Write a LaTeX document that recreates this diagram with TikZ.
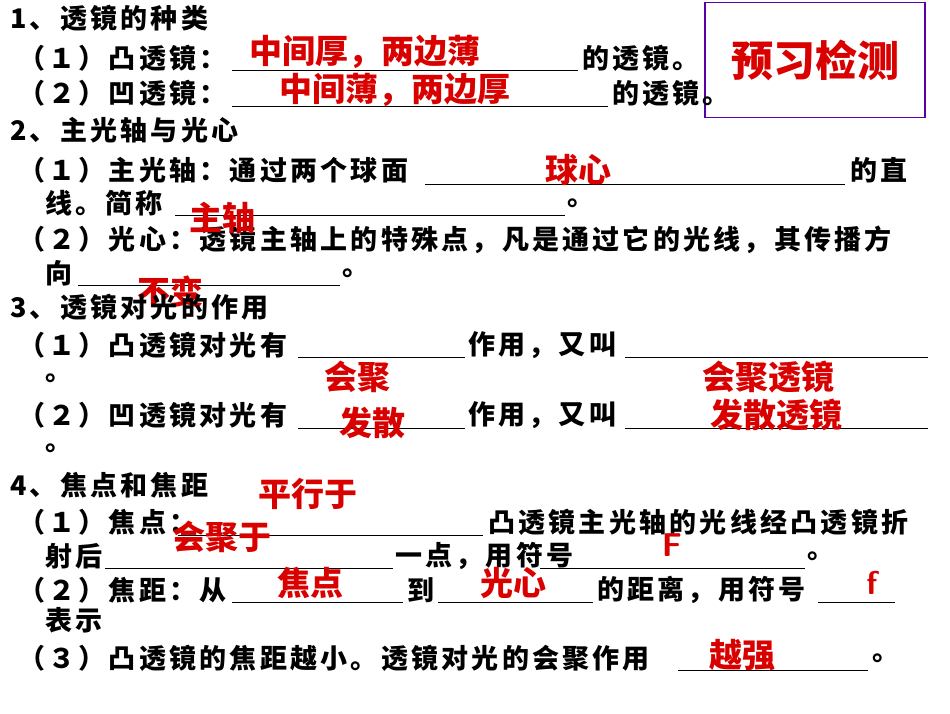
\documentclass[tikz,border=0pt]{standalone}
\usepackage{fontspec}
\newfontfamily\cjk{Noto Sans CJK SC}
\newfontfamily\cjkwide[LetterSpace=12]{Noto Sans CJK SC}
\tikzset{
  txt/.style = {anchor=west, inner sep=0pt, font=\cjkwide\bfseries\fontsize{27}{30}\selectfont},
  ans/.style = {inner sep=0pt, text=red!85!black, font=\cjk\bfseries\fontsize{33}{36}\selectfont},
  blank/.style = {line width=0.8pt, draw=black}
}
\begin{document}
\begin{tikzpicture}[x=1pt, y=-1pt]
    \useasboundingbox (0,0) rectangle (950,713);
    % heading box
    \node(box)[draw=violet!70!blue, line width=1.5pt, minimum width=220pt, minimum height=115pt] at (815,60) {};
    \node(title)[ans, font=\cjk\bfseries\fontsize{42}{44}\selectfont] at (box) {预习检测};
    % part 1
    \node(h1)[txt] at (10,18) {1、透镜的种类};
    \node(l1a)[txt] at (18,58) {（１）凸透镜：};
    \draw[blank] (232,70) -- (578,70);
    \node(l1b)[txt] at (582,58) {的透镜。};
    \node(l2a)[txt] at (18,93) {（２）凹透镜：};
    \draw[blank] (232,106) -- (608,106);
    \node(l2b)[txt] at (612,93) {的透镜。};
    \node(a1)[ans] at (365,52) {中间厚，两边薄};
    \node(a2)[ans] at (395,90) {中间薄，两边厚};
    % part 2
    \node(h2)[txt] at (10,130) {2、主光轴与光心};
    \node(l3a)[txt] at (18,170) {（１）主光轴：通过两个球面};
    \draw[blank] (425,184) -- (845,184);
    \node(l3b)[txt] at (850,170) {的直};
    \node(l4a)[txt] at (45,203) {线。简称};
    \draw[blank] (175,215) -- (565,215);
    \node(l4b)[txt] at (567,203) {。};
    \node(l5)[txt] at (18,240) {（２）光心：透镜主轴上的特殊点，凡是通过它的光线，其传播方};
    \node(l6a)[txt] at (45,273) {向};
    \draw[blank] (78,285) -- (340,285);
    \node(l6b)[txt] at (342,273) {。};
    \node(a3)[ans] at (578,170) {球心};
    \node(a4)[ans] at (222,218) {主轴};
    \node(a5)[ans] at (170,292) {不变};
    % part 3
    \node(h3)[txt] at (10,307) {3、透镜对光的作用};
    \node(l7a)[txt] at (18,345) {（１）凸透镜对光有};
    \draw[blank] (298,357) -- (465,357);
    \node(l7b)[txt] at (468,345) {作用，又叫};
    \draw[blank] (625,357) -- (928,357);
    \node(l8)[txt] at (45,378) {。};
    \node(l9a)[txt] at (18,415) {（２）凹透镜对光有};
    \draw[blank] (298,428) -- (465,428);
    \node(l9b)[txt] at (468,415) {作用，又叫};
    \draw[blank] (625,428) -- (928,428);
    \node(l10)[txt] at (45,448) {。};
    \node(a6)[ans] at (357,377) {会聚};
    \node(a7)[ans] at (768,377) {会聚透镜};
    \node(a8)[ans] at (372,423) {发散};
    \node(a9)[ans] at (776,415) {发散透镜};
    % part 4
    \node(h4)[txt] at (10,485) {4、焦点和焦距};
    \node(l11a)[txt] at (18,522) {（１）焦点：};
    \draw[blank] (178,535) -- (483,535);
    \node(l11b)[txt] at (488,522) {凸透镜主光轴的光线经凸透镜折};
    \node(l12a)[txt] at (45,556) {射后};
    \draw[blank] (105,568) -- (393,568);
    \node(l12b)[txt] at (395,556) {一点，用符号};
    \draw[blank] (540,568) -- (805,568);
    \node(l12c)[txt] at (807,556) {。};
    \node(l13a)[txt] at (18,590) {（２）焦距：从};
    \draw[blank] (232,602) -- (403,602);
    \node(l13b)[txt] at (407,590) {到};
    \draw[blank] (438,602) -- (593,602);
    \node(l13c)[txt] at (597,590) {的距离，用符号};
    \draw[blank] (818,602) -- (895,602);
    \node(l14)[txt] at (45,620) {表示};
    \node(l15a)[txt] at (18,658) {（３）凸透镜的焦距越小。透镜对光的会聚作用};
    \draw[blank] (678,670) -- (868,670);
    \node(l15b)[txt] at (872,658) {。};
    \node(a10)[ans] at (308,494) {平行于};
    \node(a11)[ans] at (222,537) {会聚于};
    \node(a12)[ans, font=\sffamily\bfseries\fontsize{33}{36}\selectfont] at (672,545) {F};
    \node(a13)[ans] at (310,583) {焦点};
    \node(a14)[ans] at (513,583) {光心};
    \node(a15)[ans, font=\sffamily\bfseries\fontsize{33}{36}\selectfont] at (872,583) {f};
    \node(a16)[ans] at (742,655) {越强};
\end{tikzpicture}
\end{document}
